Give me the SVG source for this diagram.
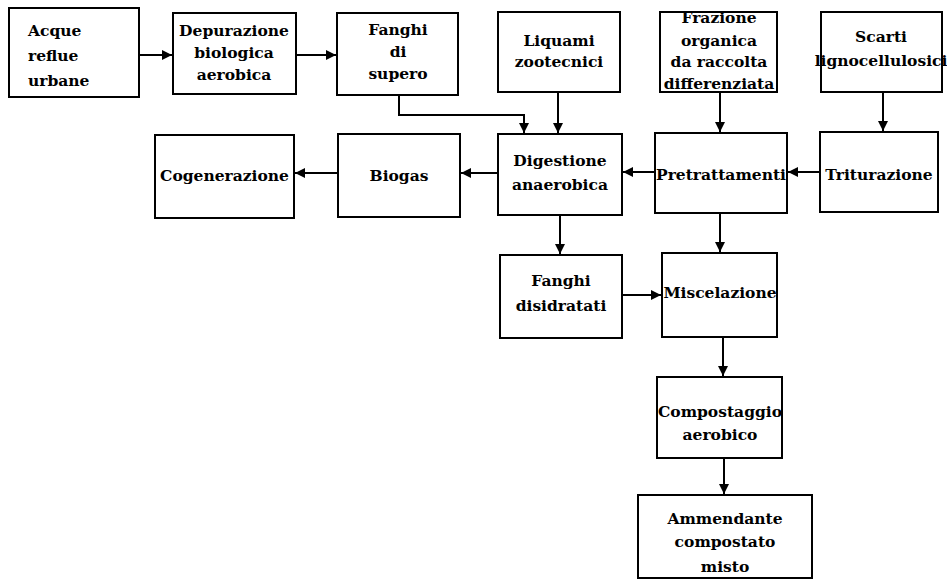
<svg xmlns="http://www.w3.org/2000/svg" width="947" height="581" viewBox="0 0 947 581">
<style>
.box{fill:#fff;stroke:#000;stroke-width:2}
text{font-family:"DejaVu Serif","Liberation Serif",serif;font-weight:bold;font-size:15.5px;fill:#000}
.c{text-anchor:middle}
.ln{fill:none;stroke:#000;stroke-width:2}
</style>
<defs>
<marker id="ah" viewBox="0 0 10 10" refX="10" refY="5" markerWidth="5" markerHeight="5" orient="auto" markerUnits="strokeWidth">
<path d="M0,0 L10,5 L0,10 z" fill="#000"/>
</marker>
</defs>
<rect width="947" height="581" fill="#fff"/>
<g id="connectors">
<line class="ln" x1="140" y1="55" x2="172" y2="55" marker-end="url(#ah)"/>
<line class="ln" x1="296" y1="55" x2="336" y2="55" marker-end="url(#ah)"/>
<polyline class="ln" points="399,95 399,115 524,115 524,133" marker-end="url(#ah)"/>
<line class="ln" x1="558" y1="92" x2="558" y2="133" marker-end="url(#ah)"/>
<line class="ln" x1="720" y1="92" x2="720" y2="132" marker-end="url(#ah)"/>
<line class="ln" x1="883" y1="92" x2="883" y2="131" marker-end="url(#ah)"/>
<line class="ln" x1="820" y1="172" x2="788" y2="172" marker-end="url(#ah)"/>
<line class="ln" x1="655" y1="172" x2="623" y2="172" marker-end="url(#ah)"/>
<line class="ln" x1="498" y1="173" x2="461" y2="173" marker-end="url(#ah)"/>
<line class="ln" x1="338" y1="173" x2="295" y2="173" marker-end="url(#ah)"/>
<line class="ln" x1="560" y1="215" x2="560" y2="254" marker-end="url(#ah)"/>
<line class="ln" x1="720" y1="213" x2="720" y2="252" marker-end="url(#ah)"/>
<line class="ln" x1="622" y1="295" x2="661" y2="295" marker-end="url(#ah)"/>
<line class="ln" x1="723" y1="337" x2="723" y2="376" marker-end="url(#ah)"/>
<line class="ln" x1="724" y1="458" x2="724" y2="494" marker-end="url(#ah)"/>
</g>
<g id="acque"><rect class="box" x="9" y="8" width="130" height="89"/>
<text x="28" y="36">Acque</text><text x="28" y="61">reflue</text><text x="28" y="86">urbane</text></g>
<g id="depurazione"><rect class="box" x="173" y="13" width="123" height="81"/>
<text class="c" x="234" y="36">Depurazione</text><text class="c" x="234" y="58">biologica</text><text class="c" x="234" y="80">aerobica</text></g>
<g id="fanghi-supero"><rect class="box" x="337" y="13" width="121" height="82"/>
<text class="c" x="398" y="35">Fanghi</text><text class="c" x="398" y="57">di</text><text class="c" x="398" y="79">supero</text></g>
<g id="liquami"><rect class="box" x="498" y="12" width="122" height="80"/>
<text class="c" x="559" y="46">Liquami</text><text class="c" x="559" y="67">zootecnici</text></g>
<g id="frazione"><rect class="box" x="660" y="12" width="117" height="80"/>
<text class="c" x="719" y="23">Frazione</text><text class="c" x="719" y="46">organica</text><text class="c" x="719" y="67">da raccolta</text><text class="c" x="719" y="89">differenziata</text></g>
<g id="scarti"><rect class="box" x="821" y="12" width="121" height="80"/>
<text class="c" x="881" y="42">Scarti</text><text class="c" x="881" y="66">lignocellulosici</text></g>
<g id="cogenerazione"><rect class="box" x="155" y="135" width="139" height="83"/>
<text class="c" x="224.5" y="181">Cogenerazione</text></g>
<g id="biogas"><rect class="box" x="338" y="134" width="122" height="83"/>
<text class="c" x="399" y="181">Biogas</text></g>
<g id="digestione"><rect class="box" x="498" y="134" width="124" height="81"/>
<text class="c" x="560" y="166">Digestione</text><text class="c" x="560" y="190">anaerobica</text></g>
<g id="pretrattamenti"><rect class="box" x="655" y="133" width="132" height="80"/>
<text class="c" x="721" y="180">Pretrattamenti</text></g>
<g id="triturazione"><rect class="box" x="820" y="132" width="118" height="80"/>
<text class="c" x="879" y="180">Triturazione</text></g>
<g id="fanghi-disidratati"><rect class="box" x="500" y="255" width="122" height="83"/>
<text class="c" x="561" y="286">Fanghi</text><text class="c" x="561" y="311">disidratati</text></g>
<g id="miscelazione"><rect class="box" x="662" y="253" width="115" height="84"/>
<text class="c" x="720" y="298">Miscelazione</text></g>
<g id="compostaggio"><rect class="box" x="657" y="377" width="125" height="81"/>
<text class="c" x="720" y="417">Compostaggio</text><text class="c" x="720" y="440">aerobico</text></g>
<g id="ammendante"><rect class="box" x="638" y="495" width="174" height="83"/>
<text class="c" x="725" y="524">Ammendante</text><text class="c" x="725" y="547">compostato</text><text class="c" x="725" y="572">misto</text></g>
</svg>
